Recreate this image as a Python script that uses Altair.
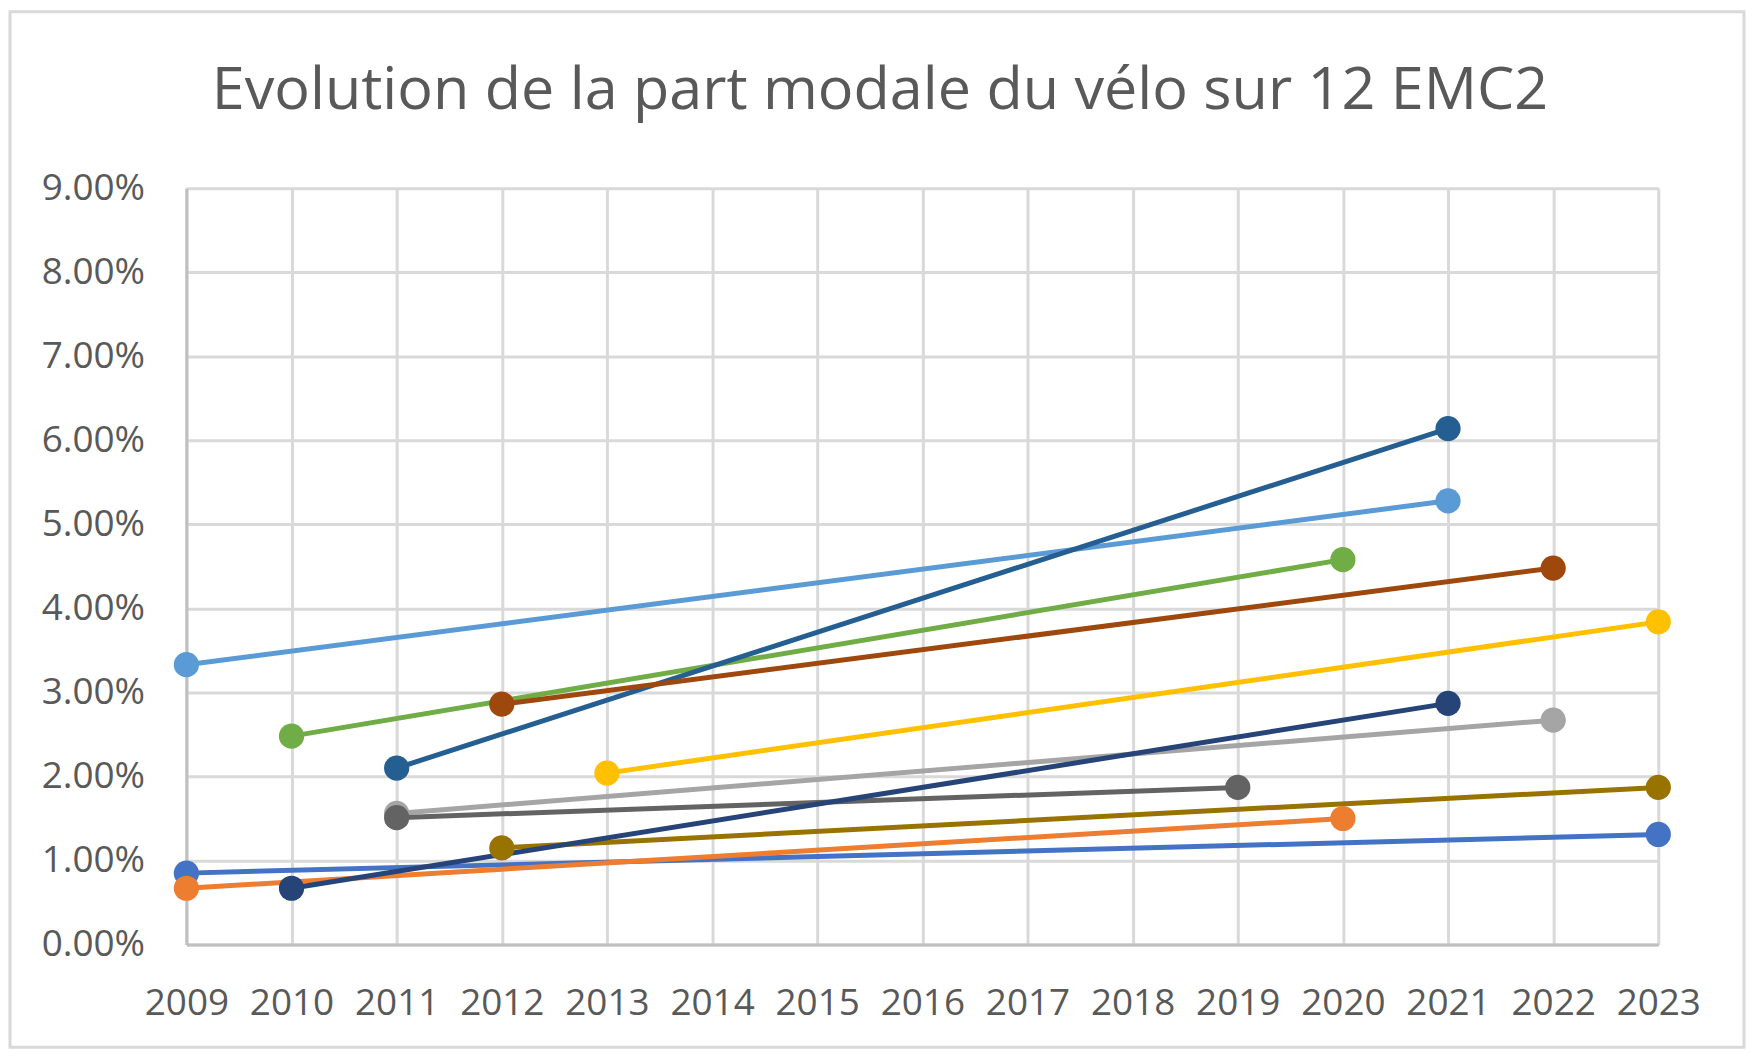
import altair as alt
import pandas as pd

# Series (Excel drawing order)
series = ["EMC2 A", "EMC2 B", "EMC2 C", "EMC2 D", "EMC2 E", "EMC2 F",
          "EMC2 G", "EMC2 H", "EMC2 I", "EMC2 J", "EMC2 K"]
colors = ["#5B9BD5", "#4472C4", "#ED7D31", "#A5A5A5", "#FFC000", "#70AD47",
          "#255E91", "#9E480E", "#636363", "#997300", "#264478"]
start_year = [2009, 2009, 2009, 2011, 2013, 2010, 2011, 2012, 2011, 2012, 2010]
start_val = [3.33, 0.85, 0.67, 1.56, 2.04, 2.48, 2.10, 2.86, 1.51, 1.15, 0.67]
end_year = [2021, 2023, 2020, 2022, 2023, 2020, 2021, 2022, 2019, 2023, 2021]
end_val = [5.28, 1.31, 1.50, 2.67, 3.84, 4.58, 6.14, 4.48, 1.87, 1.87, 2.87]

years = list(range(2009, 2024))
y_ticks = [0, 0.01, 0.02, 0.03, 0.04, 0.05, 0.06, 0.07, 0.08, 0.09]
title_text = "Evolution de la part modale du vélo sur 12 EMC2"

rows = []
for i, s in enumerate(series):
    rows.append({"serie": s, "annee": start_year[i], "part": start_val[i] / 100, "ordre": i, "pt": 0})
    rows.append({"serie": s, "annee": end_year[i], "part": end_val[i] / 100, "ordre": i, "pt": 1})
df = pd.DataFrame(rows)

FONT = "Open Sans"
TXT = "#595959"

x_enc = alt.X("annee:Q", scale=alt.Scale(domain=[2009, 2023], nice=False, zero=False),
              axis=alt.Axis(values=years, format="d", title=None, grid=True,
                            gridColor="#D9D9D9", gridWidth=3, ticks=False,
                            domainColor="#BFBFBF", domainWidth=3,
                            labelFont=FONT, labelFontSize=37, labelColor=TXT,
                            labelPadding=41, labelOverlap=False, labelFlush=False))
y_enc = alt.Y("part:Q", scale=alt.Scale(domain=[0, 0.09], nice=False),
              axis=alt.Axis(values=y_ticks, format=".2%", title=None, grid=True,
                            gridColor="#D9D9D9", gridWidth=3, ticks=False,
                            domainColor="#BFBFBF", domainWidth=3,
                            labelFont=FONT, labelFontSize=37, labelColor=TXT,
                            labelPadding=42))
color_enc = alt.Color("serie:N", scale=alt.Scale(domain=series, range=colors), legend=None)

base = alt.Chart(df)
lines = base.mark_line(strokeWidth=5).encode(x=x_enc, y=y_enc, color=color_enc,
                                               detail="serie:N", order="pt:Q")
points = base.mark_circle(size=640, opacity=1).encode(x="annee:Q", y="part:Q", color=color_enc,
                                                      order="ordre:Q")

frame = alt.Chart(pd.DataFrame({"f": [0]})).mark_rect(
    filled=False, stroke="#D9D9D9", strokeWidth=3
).encode(x=alt.value(-177), x2=alt.value(1563), y=alt.value(-177), y2=alt.value(862))

title = alt.Chart(pd.DataFrame({"t": [title_text]})).mark_text(
    font=FONT, fontSize=59.5, color=TXT, align="center", baseline="alphabetic"
).encode(text="t:N", x=alt.value(696), y=alt.value(-79))

chart = alt.layer(frame, lines, points, title).properties(
    width=1477, height=759,
    autosize=alt.AutoSizeParams(type="none"),
    padding={"left": 179, "top": 179, "right": 88, "bottom": 105},
).configure_view(stroke=None).configure(background="white")

chart.save("out.html", embed_options={"renderer": "svg", "actions": False})
